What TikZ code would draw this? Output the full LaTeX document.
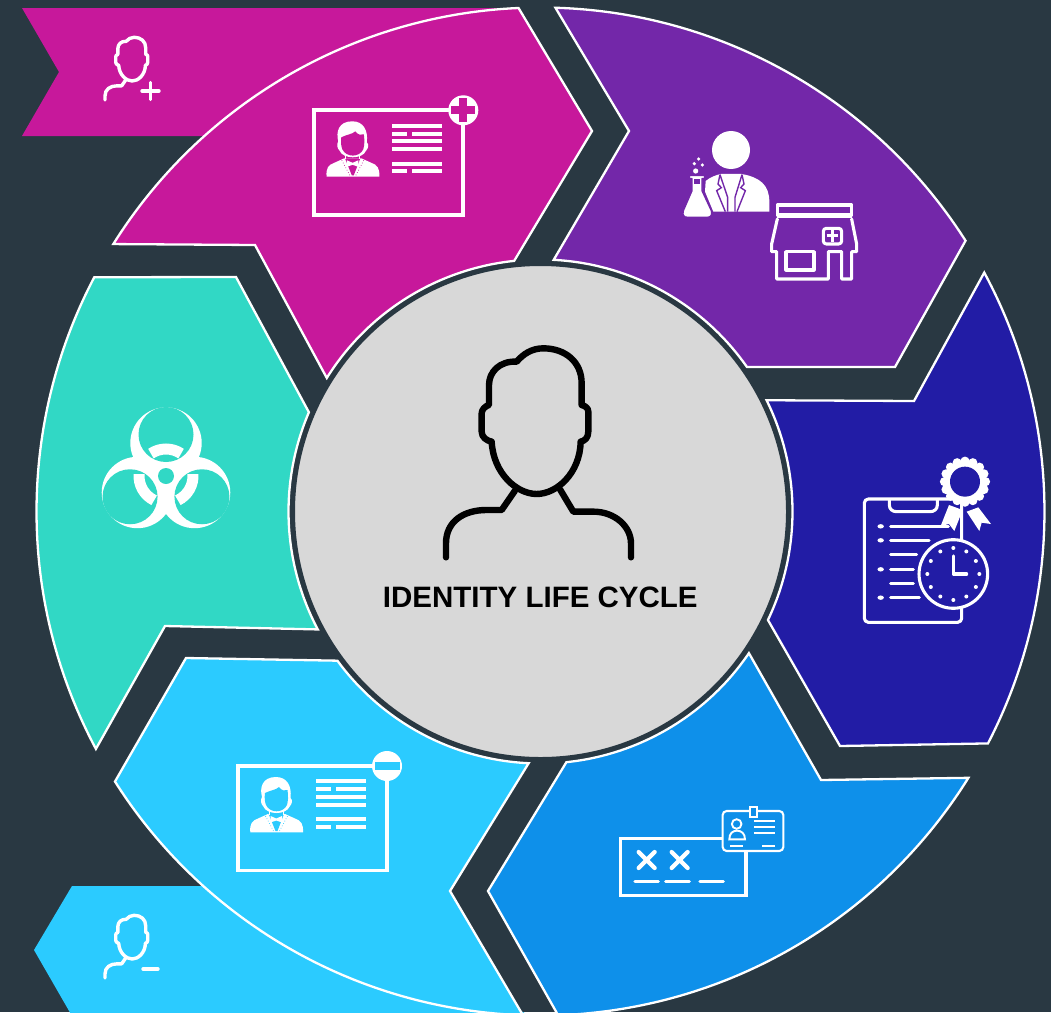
\documentclass[tikz,border=0pt]{standalone}
\usepackage{fontspec}
\usetikzlibrary{calc}
\setmainfont{Liberation Sans}
\definecolor{bgc}{HTML}{293842}
\definecolor{cmag}{HTML}{C7189B}
\definecolor{cpur}{HTML}{7327A9}
\definecolor{cnav}{HTML}{221CA5}
\definecolor{cblu}{HTML}{0E90EA}
\definecolor{clig}{HTML}{2BCBFF}
\definecolor{ctea}{HTML}{31D8C5}
\definecolor{cgra}{HTML}{D8D8D8}
\tikzset{
  seg/.style={draw=white,line width=2.3pt,line join=miter},
  ico/.style={draw=white,line width=3.1pt,line cap=round,line join=round},
  headline/.style={line width=#1,line cap=round,line join=round},
}
% head outline, in 3x-zoom units (x right, y negative)
\newcommand\headshape{(215,-335) .. controls (220,-430) and (290,-492) .. (350,-492) .. controls (410,-492) and (480,-430) .. (482,-335)
 .. controls (495,-333) and (505,-322) .. (505,-305) -- (505,-245) .. controls (505,-235) and (497,-228) .. (485,-225) -- (485,-160)
 .. controls (485,-95) and (435,-55) .. (370,-55) .. controls (335,-55) and (310,-72) .. (290,-95) .. controls (240,-92) and (207,-125) .. (207,-165)
 -- (207,-225) .. controls (195,-228) and (185,-240) .. (185,-250) -- (185,-305) .. controls (185,-322) and (200,-332) .. (215,-335) -- cycle}
\newcommand\leftshoulder{(78,-682) -- (78,-640) .. controls (78,-575) and (130,-540) .. (200,-540) -- (245,-540) -- (285,-482)}
\newcommand\rightshoulder{(420,-478) -- (460,-545) -- (520,-545) .. controls (585,-545) and (633,-590) .. (633,-640) -- (633,-682)}
% small person: #1,#2 origin
\newcommand\smallperson[2]{\begin{scope}[shift={(#1,-#2)},x=0.1pt,y=0.1pt]
  \draw[white,headline=3.4pt] \headshape;
  \draw[white,headline=3.4pt] \leftshoulder;
\end{scope}}
% id card: #1 x, #2 y, #3 colour, #4 sign
\newcommand\idcard[4]{\begin{scope}[shift={(#1,-#2)}]
  \draw[white,line width=3.8pt] (0,0) rectangle (149,-104.5);
  \foreach \yy in {15.3,31,39,53.3}{\fill[white] (78,-\yy-2) rectangle (128,-\yy+2);}
  \foreach \yy in {23.3,60.7}{\fill[white] (78,-\yy-2) rectangle (93,-\yy+2);\fill[white] (98,-\yy-2) rectangle (128,-\yy+2);}
  % portrait
  \fill[white] (12.3,-66.3) .. controls (11.5,-58) and (14,-54.5) .. (20,-52.5) -- (30,-48) -- (47,-48) -- (57,-52.5) .. controls (63,-54.5) and (65.5,-58) .. (65,-66.3) -- cycle;
  \fill[#3] (30.7,-48) -- (37.5,-65) -- (39.5,-65) -- (46,-48) -- cycle;
  \draw[#3,line width=0.7pt,dotted] (27.5,-50) -- (36,-66) (49.5,-50) -- (41,-66);
  \fill[white] (32.5,-50) -- (38.3,-52.5) -- (44,-50) -- (44,-56.5) -- (38.3,-54.5) -- (32.5,-56.5) -- cycle;
  \draw[white,line width=1.2pt] (31.5,-41) -- (31.5,-49) (45.5,-41) -- (45.5,-49);
  \fill[white] (24,-31) .. controls (21.5,-22) and (24,-11) .. (38,-11) .. controls (49,-11) and (54,-20) .. (52.5,-32)
     .. controls (55,-34) and (54,-38) .. (52,-40) .. controls (50,-45) and (44,-47) .. (38.5,-47) .. controls (33,-47) and (27,-45) .. (25,-40) .. controls (23,-38) and (22,-34) .. (24,-31) -- cycle;
  \fill[#3] (27,-27) .. controls (33,-24) and (38,-24) .. (41,-21) .. controls (44,-25) and (47,-25) .. (49.5,-24)
     .. controls (50.5,-31) and (50,-35) .. (49,-39) .. controls (47,-43) and (43,-45.3) .. (38.5,-45.3) .. controls (34,-45.3) and (30,-43) .. (28,-39) .. controls (26.5,-35) and (26.5,-31) .. (27,-27) -- cycle;
  % badge
  \fill[white] (149,0) circle (15pt);
  #4
\end{scope}}
\begin{document}
\begin{tikzpicture}[x=1pt,y=1pt]
\useasboundingbox (0,0) rectangle (1051,-1012);
\clip (0,0) rectangle (1051,-1012);
\fill[bgc] (0,0) rectangle (1051,-1012);
\coordinate (C) at (540.5,-511.5);
% ribbons
\fill[cmag] (22,-8) -- (59,-72) -- (22,-136) -- (300,-136) -- (518,-8) -- cycle;
\fill[clig] (72,-886) -- (34,-950) -- (72,-1016) -- (530,-1016) -- (300,-886) -- cycle;
% segments
\path[seg,fill=cmag] ([shift={(C)}]147.95:504pt) arc[start angle=147.95,end angle=92.5,radius=504pt] -- (592,-131) -- ([shift={(C)}]96:252pt) arc[start angle=96,end angle=148,radius=252pt] -- (255,-245) -- cycle;
\path[seg,fill=cpur] ([shift={(C)}]88.3:504pt) arc[start angle=88.3,end angle=32.5,radius=504pt] -- (895,-367) -- ([shift={(C)}]35:252pt) arc[start angle=35,end angle=87,radius=252pt] -- (629,-131) -- cycle;
\path[seg,fill=cnav] ([shift={(C)}]28.3:504pt) arc[start angle=28.3,end angle=-27.4,radius=504pt] -- (840,-746) -- ([shift={(C)}]-25.5:252pt) arc[start angle=-25.5,end angle=26.2,radius=252pt] -- (914,-401) -- cycle;
\path[seg,fill=cblu] ([shift={(C)}]-31.9:504pt) arc[start angle=-31.9,end angle=-88,radius=504pt] -- (488,-891) -- ([shift={(C)}]-84.1:252pt) arc[start angle=-84.1,end angle=-34.2,radius=252pt] -- (821,-780) -- cycle;
\path[seg,fill=clig] ([shift={(C)}]212.4:504pt) arc[start angle=212.4,end angle=268,radius=504pt] -- (450,-891) -- ([shift={(C)}]267.3:252pt) arc[start angle=267.3,end angle=216.3,radius=252pt] -- (186,-658) -- cycle;
\path[seg,fill=ctea] ([shift={(C)}]208.1:504pt) arc[start angle=208.1,end angle=152.3,radius=504pt] -- (236,-277) -- ([shift={(C)}]156.8:252pt) arc[start angle=156.8,end angle=207.9,radius=252pt] -- (165,-626) -- cycle;
% centre
\node[circle,fill=cgra,draw=bgc,line width=4pt,minimum size=495pt,inner sep=0pt] (hub) at (C) {};
\begin{scope}[shift={(420,-330)},x=0.3333pt,y=0.3333pt]
  \draw[black,headline=6.4pt] \headshape;
  \draw[black,headline=6.4pt] \leftshoulder;
  \draw[black,headline=6.4pt] \rightshoulder;
\end{scope}
\node[font=\fontsize{29.5}{32}\selectfont\bfseries,text=black,inner sep=0pt] (title) at (540.3,-597) {IDENTITY LIFE CYCLE};
% small persons
\smallperson{97.2}{31.8}
\draw[white,line width=3.4pt,line cap=round] (142,-91) -- (159,-91) (150.5,-82.5) -- (150.5,-99.5);
\smallperson{97.2}{909.8}
\draw[white,line width=3.4pt,line cap=round] (143,-969) -- (158,-969);
% id cards
\idcard{314.3}{110.3}{cmag}{\begin{scope}[shift={(149,0)}]\fill[cmag] (-12,-4) rectangle (12,4); \fill[cmag] (-4,-12) rectangle (4,12);\end{scope}}
\idcard{238}{766}{clig}{\begin{scope}[shift={(149,0)}]\fill[clig] (-12.5,-4) rectangle (12.5,4);\end{scope}}
% scientist
\begin{scope}[shift={(660,-120)},x=0.3333pt,y=0.3333pt]
  \fill[white] (213,-90) circle (19pt);
  \fill[white] (137,-183) .. controls (150,-172) and (168,-165) .. (182,-162) -- (245,-162) .. controls (300,-172) and (328,-195) .. (328,-245) -- (328,-275) -- (160,-275) -- (135,-215) -- cycle;
  \draw[cpur,line width=1.4pt,line join=miter] (180,-164) -- (174,-192) -- (184,-203) -- (170,-212) -- (196,-275);
  \draw[cpur,line width=1.4pt,line join=miter] (246,-164) -- (252,-192) -- (242,-203) -- (256,-212) -- (231,-275);
  \draw[cpur,line width=1.4pt] (180,-164) -- (203,-232) -- (203,-275);
  \draw[cpur,line width=1.4pt] (246,-164) -- (225,-232) -- (225,-275);
  \filldraw[fill=white,draw=cpur,line width=1.4pt,line join=round] (88,-166) -- (134,-166) -- (134,-176) -- (126,-176) -- (126,-212) -- (154,-272) .. controls (158,-285) and (152,-292) .. (142,-292) -- (82,-292) .. controls (72,-292) and (66,-285) .. (70,-272) -- (96,-212) -- (96,-176) -- (88,-176) -- cycle;
  \fill[cpur] (102,-176) -- (120,-176) -- (120,-192) -- (102,-192) -- cycle;
  \fill[white] (107,-153) circle (2.6pt) (103,-131) circle (1.8pt) (127,-135) circle (1.8pt) (116,-117) circle (1.8pt);
\end{scope}
% store
\begin{scope}[shift={(660,-120)},x=0.3333pt,y=0.3333pt]
  \draw[ico] (352,-255) rectangle (575,-285);
  \draw[ico,line width=1.2pt] (352,-292) -- (575,-292);
  \draw[ico] (352,-297) -- (335,-372) -- (335,-395) -- (350,-395) -- (350,-477) -- (505,-477) -- (505,-395) -- (545,-395) -- (545,-477) -- (575,-477) -- (575,-395) -- (590,-395) -- (590,-372) -- (575,-297);
  \draw[ico] (378,-395) rectangle (462,-450);
  \draw[ico,rounded corners=3pt] (490,-325) rectangle (545,-372);
  \draw[white,line width=3pt] (500,-348) -- (535,-348) (517.5,-331) -- (517.5,-366);
\end{scope}
% clipboard
\begin{scope}[shift={(850,-450)},x=0.3333pt,y=0.3333pt]
  \draw[ico,rounded corners=4pt] (43,-147) rectangle (335,-517);
  \draw[ico] (118,-150) -- (118,-165) .. controls (118,-178) and (128,-185) .. (140,-185) -- (240,-185) .. controls (252,-185) and (262,-178) .. (262,-165) -- (262,-150);
  \foreach \yy/\xe in {229/295,271/237,314/200,358/190,400/190,443/208}{\draw[ico] (122,-\yy) -- (\xe,-\yy);}
  \foreach \yy in {229,271,358,443}{\fill[white] (92,-\yy) ellipse (3.2pt and 2.2pt);}
  \fill[cnav] (310,-372) circle (34.3pt);
  \draw[white,line width=3.1pt] (310,-372) circle (34.3pt);
  \foreach \aa in {0,30,...,330}{\fill[white] ($(310,-372)+(\aa:26pt)$) circle (2pt);}
  \draw[ico] (310,-318) -- (310,-372) -- (350,-372);
  \fill[white] (297,-165) -- (338,-180) -- (313,-243) -- (297,-222) -- (272,-228) -- cycle;
  \fill[white] (350,-185) -- (385,-172) -- (423,-222) -- (395,-218) -- (388,-243) -- cycle;
  \fill[white] (345,-95) circle (21pt);
  \foreach \aa in {0,22.5,...,337.5}{\fill[white] ($(345,-95)+(\aa:20.5pt)$) circle (4.6pt);}
  \fill[cnav] (345,-95) circle (15pt);
\end{scope}
% biohazard
\begin{scope}[shift={(166,-476)}]
  \foreach \aa in {90,210,330}{\fill[white] (\aa:33pt) circle (35.7pt);}
  \foreach \aa in {90,210,330}{\fill[ctea] (\aa:41.5pt) circle (27.5pt);}
  \foreach \aa in {90,210,330}{\draw[white,line width=11pt] (\aa-34:27pt) arc[start angle=\aa-34,end angle=\aa+34,radius=27pt];}
  \fill[ctea] (0,0) circle (8pt);
\end{scope}
% id + pass
\begin{scope}[shift={(610,-800)},x=0.3333pt,y=0.3333pt]
  \draw[ico,line join=miter] (32,-115) rectangle (408,-287);
  \foreach \xx in {110,209}{\draw[white,line width=4.2pt,line cap=round] (\xx-24,-156) -- (\xx+24,-204) (\xx-24,-204) -- (\xx+24,-156);}
  \foreach \xa/\xb in {75/145,167/238,270/340}{\draw[ico] (\xa,-244) -- (\xb,-244);}
  \filldraw[fill=cblu,draw=white,line width=2.1pt,rounded corners=4pt] (338,-33) rectangle (520,-153);
  \filldraw[fill=cblu,draw=white,line width=2.1pt] (420,-20) rectangle (440,-50);
  \draw[white,line width=1.9pt] (380,-72) circle (4.8pt);
  \draw[white,line width=1.9pt] (358,-118) .. controls (358,-100) and (368,-92) .. (381,-92) .. controls (394,-92) and (405,-100) .. (405,-118) -- cycle;
  \foreach \yy in {62,80,98}{\draw[white,line width=1.8pt] (432,-\yy) -- (495,-\yy);}
  \draw[white,line width=1.8pt] (360,-137) -- (398,-137) (457,-137) -- (495,-137);
\end{scope}
\end{tikzpicture}
\end{document}
